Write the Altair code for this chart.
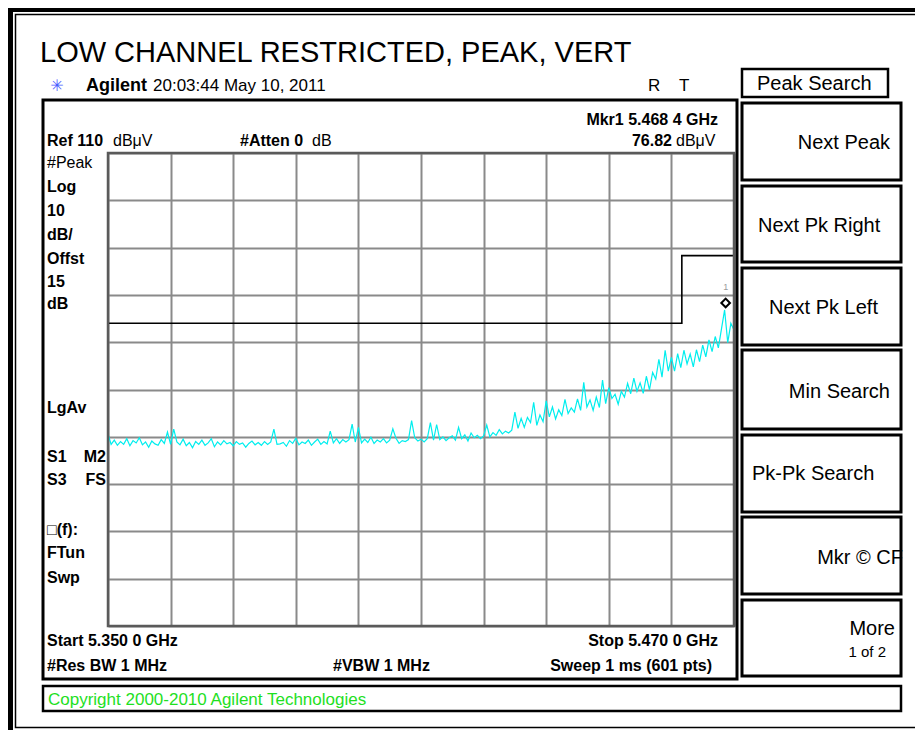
import altair as alt
import pandas as pd

# ---------------- data ----------------
freq_start_ghz = 5.350
freq_stop_ghz = 5.470
ref_level_dbuv = 110
bottom_level_dbuv = 10

grid_freqs = [5.350, 5.362, 5.374, 5.386, 5.398, 5.410, 5.422, 5.434, 5.446, 5.458, 5.470]
grid_levels = [10, 20, 30, 40, 50, 60, 70, 80, 90, 100, 110]

trace_dbuv = [
    50.6, 48.4, 49.3, 48.2, 49.0, 48.4, 49.6, 48.1, 49.2, 48.7,
    49.8, 48.3, 48.9, 47.8, 49.1, 48.5, 48.2, 49.4, 48.6, 51.0,
    48.4, 51.6, 48.9, 48.3, 49.5, 48.1, 48.8, 47.7, 49.0, 48.4,
    49.3, 48.2, 48.7, 49.6, 47.9, 48.9, 48.3, 49.2, 48.5, 48.8,
    48.1, 49.0, 48.4, 48.7, 47.8, 48.6, 49.1, 48.3, 48.8, 48.2,
    49.0, 48.4, 48.9, 51.6, 48.4, 48.5, 48.8, 48.0, 49.2, 48.6,
    49.7, 48.3, 48.9, 48.6, 49.3, 48.2, 48.9, 49.5, 48.4, 49.0,
    48.5, 51.2, 48.7, 49.6, 48.6, 49.4, 48.9, 49.4, 52.7, 48.9,
    52.0, 48.7, 49.5, 48.8, 49.9, 48.6, 49.3, 48.9, 49.6, 48.7,
    49.3, 51.7, 49.7, 48.6, 49.2, 49.0, 49.4, 53.4, 49.8, 49.1,
    49.5, 48.9, 49.6, 53.0, 49.3, 52.6, 49.4, 50.0, 49.2, 49.8,
    50.2, 49.3, 52.0, 49.6, 50.4, 49.1, 50.8, 49.8, 50.3, 49.6,
    50.2, 52.5, 50.0, 50.9, 50.3, 51.5, 50.6, 51.2, 50.8, 51.4,
    55.2, 51.8, 53.9, 52.0, 54.1, 53.0, 57.3, 52.4, 54.6, 53.2,
    57.6, 54.2, 56.3, 53.8, 55.7, 54.5, 57.9, 54.9, 56.1, 55.2,
    58.0, 55.6, 61.5, 56.3, 57.8, 55.6, 58.4, 56.2, 62.0, 57.0,
    60.4, 58.1, 59.0, 56.9, 59.6, 58.4, 61.3, 59.1, 62.4, 59.6,
    61.4, 59.2, 62.8, 59.9, 63.6, 62.2, 66.4, 62.6, 68.3, 63.9,
    66.8, 63.9, 67.6, 64.6, 68.3, 65.4, 67.5, 64.8, 68.4, 65.9,
    69.4, 66.9, 70.5, 68.0, 71.2, 68.8, 72.8, 76.82, 69.9, 74.0, 72.6,
]
sweep_step_ghz = (freq_stop_ghz - freq_start_ghz) / (len(trace_dbuv) - 1)
trace_freq = [freq_start_ghz + i * sweep_step_ghz for i in range(len(trace_dbuv))]

limit_freq = [5.350, 5.460, 5.460, 5.470]
limit_dbuv = [74.0, 74.0, 88.3, 88.3]

marker_freq = [5.4684]
marker_dbuv = [76.82]

# ---------------- layout (page pixels) ----------------
X0, Y0 = 108, 153          # plot origin on the page
PW, PH = 626, 473          # graticule size
PAD = {"left": X0 - 8, "top": Y0 - 8, "right": 907 - (X0 - 8) - PW, "bottom": 722 - (Y0 - 8) - PH}

FONT = "Liberation Sans"

def text_layer(items, size, weight="normal", align="left", color="black", baseline="middle", font=FONT):
    df = pd.DataFrame([{"t": t, "x": x - X0, "y": y - Y0} for t, x, y in items])
    return alt.Chart(df).mark_text(
        align=align, baseline=baseline, fontSize=size, fontWeight=weight, color=color, font=font
    ).encode(
        x=alt.X("x:Q", scale=None, axis=None),
        y=alt.Y("y:Q", scale=None, axis=None),
        text="t:N",
    )

def rect_layer(boxes, sw, filled=False, color="black"):
    df = pd.DataFrame([{"x": a - X0, "x2": b - X0, "y": c - Y0, "y2": d - Y0} for a, b, c, d in boxes])
    if filled:
        mk = alt.Chart(df).mark_rect(color=color, strokeWidth=0)
    else:
        mk = alt.Chart(df).mark_rect(fillOpacity=0, stroke=color, strokeWidth=sw)
    return mk.encode(
        x=alt.X("x:Q", scale=None, axis=None), x2="x2:Q",
        y=alt.Y("y:Q", scale=None, axis=None), y2="y2:Q",
    )

# ---------------- data layers ----------------
trace_df = pd.DataFrame({"f": trace_freq, "v": trace_dbuv})
xscale = alt.Scale(domain=[freq_start_ghz, freq_stop_ghz], zero=False, nice=False)
yscale = alt.Scale(domain=[bottom_level_dbuv, ref_level_dbuv], zero=False, nice=False)
grid_axis = dict(grid=True, labels=False, ticks=False, domain=False, title=None,
                 gridColor="#8a8a8a", gridWidth=2, gridOpacity=1)

trace = alt.Chart(trace_df).mark_line(color="#00EEEE", strokeWidth=1.2).encode(
    x=alt.X("f:Q", scale=xscale, axis=alt.Axis(values=grid_freqs, **grid_axis)),
    y=alt.Y("v:Q", scale=yscale, axis=alt.Axis(values=grid_levels, **grid_axis)),
)

limit_df = pd.DataFrame({"f": limit_freq, "v": limit_dbuv, "i": list(range(len(limit_freq)))})
limit = alt.Chart(limit_df).mark_line(color="black", strokeWidth=1.6).encode(
    x=alt.X("f:Q", scale=xscale), y=alt.Y("v:Q", scale=yscale), order="i:O"
)

marker_df = pd.DataFrame({"f": marker_freq, "v": marker_dbuv, "lab": ["1"]})
marker = alt.Chart(marker_df).mark_point(
    shape="diamond", filled=False, size=75, color="black", strokeWidth=2, yOffset=-7, opacity=1
).encode(x=alt.X("f:Q", scale=xscale), y=alt.Y("v:Q", scale=yscale))
marker_lab = alt.Chart(marker_df).mark_text(
    fontSize=9, color="#9a9a9a", yOffset=-23, font=FONT
).encode(x=alt.X("f:Q", scale=xscale), y=alt.Y("v:Q", scale=yscale), text="lab:N")

# ---------------- frames ----------------
frame_fill = rect_layer([(8, 13, 8, 730), (8, 915, 8, 12)], 0, filled=True)
frame_thin = rect_layer([(15.5, 940, 14.5, 727.5)], 1.5)
main_box = rect_layer([(43, 737, 100, 679)], 3)
softkey_boxes = rect_layer([(742, 901, 103, 180), (742, 901, 186, 262), (742, 901, 268, 345),
                            (742, 901, 350, 429), (742, 901, 435, 512), (742, 901, 517, 594),
                            (742, 901, 600, 676)], 3)
top_boxes = rect_layer([(742, 888, 69, 97), (43, 901, 686, 711)], 2.5)
graticule = rect_layer([(X0, X0 + PW, Y0, Y0 + PH)], 2.5, color="#5a5a5a")

# ---------------- texts ----------------
title = text_layer([("LOW CHANNEL RESTRICTED, PEAK, VERT", 40, 62)], 29, baseline="alphabetic")
icon = text_layer([("✳", 57, 86)], 16, color="#4a5cff", align="center", font="DejaVu Sans")
hdr_bold = text_layer([("Agilent", 86, 86)], 18, weight="bold")
hdr = text_layer([("20:03:44  May 10, 2011", 153, 86), ("R", 648, 86), ("T", 679, 86)], 17)

scr_bold_left = text_layer([
    ("Ref 110", 47, 141), ("#Atten 0", 240, 141),
    ("Log", 47, 187), ("10", 47, 211), ("dB/", 47, 235), ("Offst", 47, 259),
    ("15", 47, 282), ("dB", 47, 304), ("LgAv", 47, 408), ("S1", 47, 457), ("S3", 47, 480),
    ("□(f):", 47, 530), ("FTun", 47, 553), ("Swp", 47, 578),
    ("Start 5.350 0 GHz", 47, 641), ("#Res BW 1 MHz", 47, 666), ("#VBW 1 MHz", 333, 666),
], 16, weight="bold")
scr_bold_right = text_layer([
    ("Mkr1 5.468 4 GHz", 718, 120), ("76.82", 672, 141), ("M2", 106, 457), ("FS", 106, 480),
    ("Stop 5.470 0 GHz", 718, 641), ("Sweep 1 ms (601 pts)", 712, 666),
], 16, weight="bold", align="right")
scr_reg = text_layer([("dBμV", 113, 141), ("dB", 312, 141), ("dBμV", 676, 141), ("#Peak", 47, 163)], 16)

soft_left = text_layer([("Peak Search", 757, 84), ("Next Pk Right", 758, 226),
                        ("Next Pk Left", 769, 308), ("Pk-Pk Search", 752, 474)], 20)
soft_right = text_layer([("Next Peak", 890, 143), ("Min Search", 890, 392),
                         ("Mkr © CF", 903, 558), ("More", 895, 629)], 20, align="right")
soft_small = text_layer([("1 of 2", 886, 652)], 15, align="right")
copyright = text_layer([("Copyright 2000-2010 Agilent Technologies", 48, 700)], 17, color="#1ee01e")

chart = alt.layer(
    trace, limit, marker, marker_lab, graticule,
    frame_fill, frame_thin, main_box, softkey_boxes, top_boxes,
    title, icon, hdr_bold, hdr, scr_bold_left, scr_bold_right, scr_reg,
    soft_left, soft_right, soft_small, copyright,
).properties(
    width=PW, height=PH, padding=PAD,
    autosize=alt.AutoSizeParams(type="none"),
    background="white",
).configure_view(stroke=None)

chart.save("out.html", embed_options={"renderer": "svg", "actions": False})
